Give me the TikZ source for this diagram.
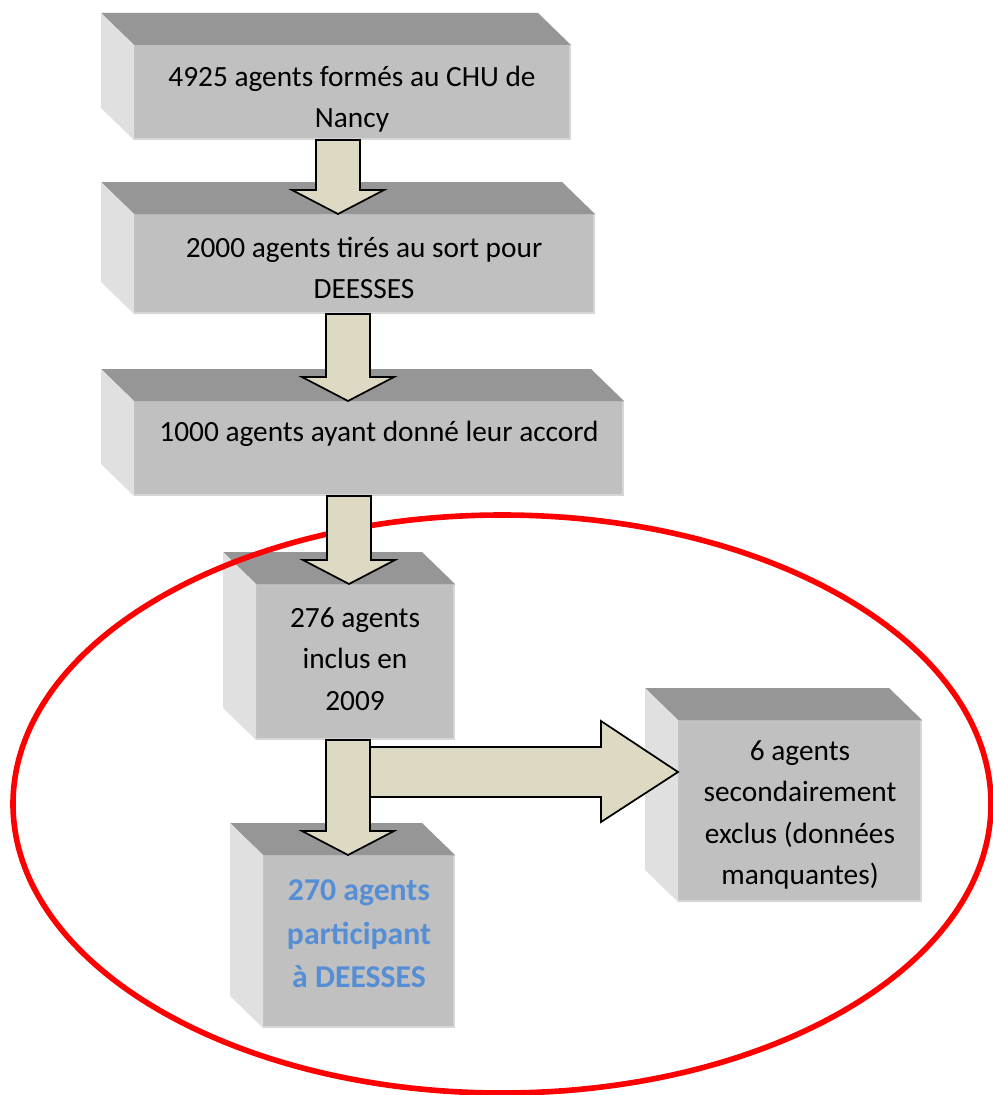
\documentclass[tikz,border=0pt]{standalone}
\usepackage{fontspec}
\setmainfont{Carlito}
\usetikzlibrary{fit,calc}
\definecolor{frontgray}{RGB}{192,192,192}
\definecolor{topgray}{RGB}{150,150,150}
\definecolor{sidegray}{RGB}{224,224,224}
\definecolor{edgegray}{RGB}{214,214,214}
\definecolor{arrowfill}{RGB}{221,217,195}
\definecolor{bluetext}{RGB}{85,142,213}
\newcommand\cubefaces[1]{%
  \fill[topgray] ($(#1.north west)+(-33,-32)$) -- ($(#1.north east)+(-33,-32)$) -- (#1.north east) -- (#1.north west) -- cycle;
  \fill[sidegray] ($(#1.north west)+(-33,-32)$) -- (#1.north west) -- (#1.south west) -- ($(#1.south west)+(-33,-32)$) -- cycle;
  \draw[edgegray, line width=1.2pt] ($(#1.north east)+(-1,1)$) -- ($(#1.south east)+(-1,-1)$) -- ($(#1.south west)+(0,-1)$);
}
\newcommand\downblock[3]{%
  \coordinate (s) at (#2.south -| #1);
  \coordinate (t) at (#3.north -| #1);
  \filldraw[blockarrow] ($(s)+(-22,0)$) -- ($(t)+(-22,-24)$) -- ($(t)+(-46,-24)$) -- (t) -- ($(t)+(46,-24)$) -- ($(t)+(22,-24)$) -- ($(s)+(22,0)$) -- cycle;
}
\begin{document}
\begin{tikzpicture}[x=0.75pt,y=-0.75pt,
  face/.style={fill=frontgray, draw=none, inner sep=0pt, outer sep=0pt},
  txt/.style={align=center, font=\fontsize{22}{31}\selectfont, inner sep=0pt},
  bluetxt/.style={txt, font=\fontsize{23.8}{32.5}\selectfont\bfseries, text=bluetext},
  blockarrow/.style={fill=arrowfill, draw=black, line width=1.3pt, line join=miter},
  redring/.style={draw=red, line width=4.2pt}]
\useasboundingbox (0,0) rectangle (992,1095);
% front faces
\coordinate (p1a) at (134,45);  \coordinate (p1b) at (571,140);
\coordinate (p2a) at (134,214); \coordinate (p2b) at (595,314);
\coordinate (p3a) at (134,401); \coordinate (p3b) at (624,496);
\coordinate (p4a) at (256,584); \coordinate (p4b) at (455,740);
\coordinate (p5a) at (263,855); \coordinate (p5b) at (455,1028);
\coordinate (p6a) at (678,720); \coordinate (p6b) at (922,902);
\node[face, fit=(p1a)(p1b)] (b1) {};
\node[face, fit=(p2a)(p2b)] (b2) {};
\node[face, fit=(p3a)(p3b)] (b3) {};
\node[face, fit=(p4a)(p4b)] (b4) {};
\node[face, fit=(p5a)(p5b)] (b5) {};
\node[face, fit=(p6a)(p6b)] (b6) {};
\cubefaces{b1}\cubefaces{b2}\cubefaces{b3}\cubefaces{b4}\cubefaces{b5}\cubefaces{b6}
% texts
\node[txt] (t1) at (352,99) {4925 agents formés au CHU de\\Nancy};
\node[txt] (t2) at (364,268) {2000 agents tirés au sort pour\\DEESSES};
\node[txt] (t3) at (379,434) {1000 agents ayant donné leur accord};
\node[txt] (t4) at (355,659) {276 agents\\inclus en\\2009};
\node[bluetxt] (t5) at (359,934) {270 agents\\participant\\à DEESSES};
\node[txt] (t6) at (800,815) {6 agents\\secondairement\\exclus (données\\manquantes)};
% red ellipse
\draw[redring] (502,804) ellipse [x radius=489, y radius=289];
% arrows
\coordinate (ax1) at (338,0);
\coordinate (ax2) at (348,0);
\coordinate (ax3) at (349,0);
\coordinate (ax4) at (348,0);
\downblock{ax1}{b1}{b2}
\downblock{ax2}{b2}{b3}
\downblock{ax3}{b3}{b4}
\downblock{ax4}{b4}{b5}
\coordinate (r0) at (370,772);
\coordinate (rt) at (b6.west |- r0);
\filldraw[blockarrow] ($(r0)+(0,-25)$) -- ($(rt)+(-77,-25)$) -- ($(rt)+(-77,-51)$) -- (rt) -- ($(rt)+(-77,50)$) -- ($(rt)+(-77,25)$) -- ($(r0)+(0,25)$) -- cycle;
\end{tikzpicture}
\end{document}
